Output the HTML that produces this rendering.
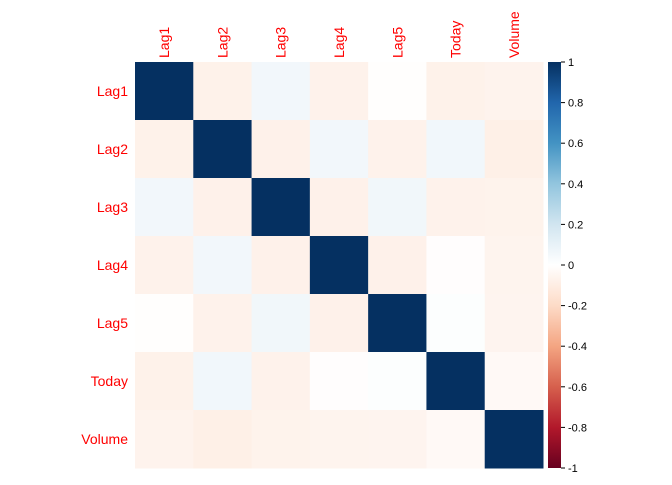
<!DOCTYPE html>
<html><head><meta charset="utf-8"><style>
body{margin:0;background:#fff;font-family:"Liberation Sans",sans-serif}
</style></head><body>
<svg id="c" width="672" height="480" xmlns="http://www.w3.org/2000/svg"></svg>
<script>
const vars=["Lag1","Lag2","Lag3","Lag4","Lag5","Today","Volume"];
const corr=[
[1,-0.0749,0.0586,-0.0713,-0.0082,-0.0750,-0.0650],
[-0.0749,1,-0.0757,0.0584,-0.0725,0.0592,-0.0855],
[0.0586,-0.0757,1,-0.0754,0.0607,-0.0712,-0.0693],
[-0.0713,0.0584,-0.0754,1,-0.0757,-0.0084,-0.0611],
[-0.0082,-0.0725,0.0607,-0.0757,1,0.0110,-0.0585],
[-0.0750,0.0592,-0.0712,-0.0084,0.0110,1,-0.0330],
[-0.0650,-0.0855,-0.0693,-0.0611,-0.0585,-0.0330,1]];
const ticks=[-1,-0.8,-0.6,-0.4,-0.2,0,0.2,0.4,0.6,0.8,1];
const stops=["#67001F","#B2182B","#D6604D","#F4A582","#FDDBC7","#FFFFFF","#D1E5F0","#92C5DE","#4393C3","#2166AC","#053061"];
const svg=document.getElementById('c');const NS="http://www.w3.org/2000/svg";
const x0=135,y0=62,W=408,H=406,n=vars.length,cw=W/n,ch=H/n;
function hex(h){return [1,3,5].map(i=>parseInt(h.substr(i,2),16));}
function col(v){const t=(v+1)/2*(stops.length-1);const i=Math.min(Math.floor(t),stops.length-2);const f=t-i;const a=hex(stops[i]),b=hex(stops[i+1]);return "rgb("+a.map((c,k)=>Math.round(c+(b[k]-c)*f)).join(",")+")";}
function el(t,a){const e=document.createElementNS(NS,t);for(const k in a)e.setAttribute(k,a[k]);svg.appendChild(e);return e;}
const sx=j=>x0+j*cw, sy=i=>y0+i*ch;
corr.forEach((row,i)=>row.forEach((v,j)=>{
 const r=el('rect',{x:sx(j),y:sy(i),width:cw+0.5,height:ch+0.5,fill:col(v)});
 
 
}));
vars.forEach((v,i)=>{
 const t=el('text',{x:128,y:sy(i)+ch/2+5,'text-anchor':'end','font-size':14,fill:'#f00'});t.textContent=v;
 
 
 const cx=sx(i)+cw/2+5;
 const u=el('text',{x:cx,y:58,'font-size':14,fill:'#f00',transform:'rotate(-90 '+cx+' 58)'});u.textContent=v;
 
 
});
const defs=el('defs',{});const g=document.createElementNS(NS,'linearGradient');g.setAttribute('id','gr');g.setAttribute('x1',0);g.setAttribute('y1',1);g.setAttribute('x2',0);g.setAttribute('y2',0);defs.appendChild(g);
stops.forEach((s,i)=>{const st=document.createElementNS(NS,'stop');st.setAttribute('offset',i/(stops.length-1));st.setAttribute('stop-color',s);g.appendChild(st);});
const cb=el('rect',{x:548,y:y0,width:13,height:H,fill:'url(#gr)'});


const cy=v=>y0+(1-v)/2*H;
ticks.forEach(v=>{
 el('line',{x1:561,x2:565,y1:cy(v),y2:cy(v),stroke:'#000','stroke-width':1});
 const t=el('text',{x:568,y:cy(v)+4,'font-size':11,fill:'#000'});t.textContent=(Math.round(v*10)/10).toString();
 
 
});
</script>
</body></html>
